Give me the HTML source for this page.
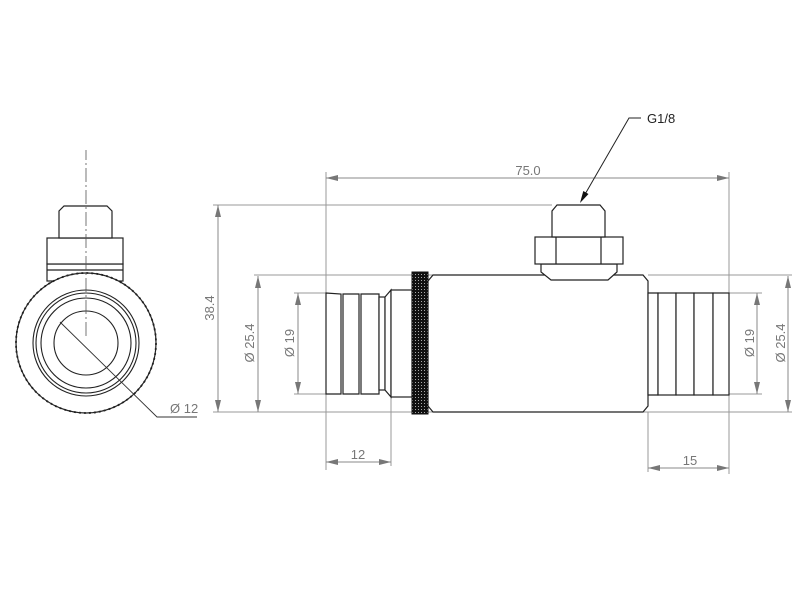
<!DOCTYPE html>
<html><head><style>
html,body{margin:0;padding:0;background:#fff;width:800px;height:600px;overflow:hidden}
svg{display:block}
text{font-family:"Liberation Sans",sans-serif;fill:#777;font-size:13px}
</style></head><body>
<svg width="800" height="600" viewBox="0 0 800 600" xmlns="http://www.w3.org/2000/svg">
<defs>
<pattern id="kn" width="3" height="3" patternUnits="userSpaceOnUse">
<rect width="3" height="3" fill="#111"/><rect x="1" y="1" width="1" height="1" fill="#aaa"/>
</pattern>
</defs>

<g stroke="#999" stroke-width="1" fill="none">
<line x1="326" y1="172" x2="326" y2="470"/>
<line x1="729" y1="172" x2="729" y2="474"/>
<line x1="213" y1="205" x2="552" y2="205"/>
<line x1="213" y1="412" x2="792" y2="412"/>
<line x1="254" y1="275" x2="433" y2="275"/>
<line x1="648" y1="275" x2="792" y2="275"/>
<line x1="294" y1="293" x2="326" y2="293"/>
<line x1="294" y1="394" x2="326" y2="394"/>
<line x1="729" y1="293" x2="762" y2="293"/>
<line x1="729" y1="394" x2="762" y2="394"/>
<line x1="391" y1="397" x2="391" y2="466"/>
<line x1="648" y1="412" x2="648" y2="472"/>
</g>
<g stroke="#888" stroke-width="1" fill="none">
<line x1="326" y1="178" x2="729" y2="178"/>
<line x1="218" y1="205" x2="218" y2="412"/>
<line x1="258" y1="276" x2="258" y2="412"/>
<line x1="298" y1="293" x2="298" y2="394"/>
<line x1="757" y1="293" x2="757" y2="394"/>
<line x1="788" y1="276" x2="788" y2="412"/>
<line x1="326" y1="462" x2="391" y2="462"/>
<line x1="648" y1="468" x2="729" y2="468"/>
</g>
<g fill="#777">
<polygon points="326,178 338,175 338,181"/><polygon points="729,178 717,175 717,181"/>
<polygon points="218,205 215,217 221,217"/><polygon points="218,412 215,400 221,400"/>
<polygon points="258,276 255,288 261,288"/><polygon points="258,412 255,400 261,400"/>
<polygon points="298,293 295,305 301,305"/><polygon points="298,394 295,382 301,382"/>
<polygon points="757,293 754,305 760,305"/><polygon points="757,394 754,382 760,382"/>
<polygon points="788,276 785,288 791,288"/><polygon points="788,412 785,400 791,400"/>
<polygon points="326,462 338,459 338,465"/><polygon points="391,462 379,459 379,465"/>
<polygon points="648,468 660,465 660,471"/><polygon points="729,468 717,465 717,471"/>
</g>
<text x="528" y="175" text-anchor="middle">75.0</text>
<text x="358" y="459" text-anchor="middle">12</text>
<text x="690" y="465" text-anchor="middle">15</text>
<text transform="translate(214,308) rotate(-90)" text-anchor="middle">38.4</text>
<text transform="translate(254,343) rotate(-90)" text-anchor="middle">Ø 25.4</text>
<text transform="translate(294,343) rotate(-90)" text-anchor="middle">Ø 19</text>
<text transform="translate(754,343) rotate(-90)" text-anchor="middle">Ø 19</text>
<text transform="translate(785,343) rotate(-90)" text-anchor="middle">Ø 25.4</text>

<polyline points="641,118 629,118 584,196" fill="none" stroke="#222" stroke-width="1"/>
<polygon points="580,203 588.5,194 583.3,191" fill="#111"/>
<text x="647" y="123" style="fill:#222">G1/8</text>

<g stroke="#222" stroke-width="1.2" fill="#fff">
<path d="M326,293 L341,294 L341,394 L326,394z"/>
<path d="M343,294 L359,294 L359,394 L343,394z"/>
<path d="M361,294 L379,294 L379,394 L361,394z"/>
<rect x="379" y="297" width="6" height="93"/>
<path d="M385,297 L391,290 L391,397 L385,390z"/>
<rect x="391" y="290" width="21" height="107"/>
<path d="M433,275 L643,275 L648,281 L648,406 L643,412 L433,412 L428,406 L428,281z"/>
<path d="M648,293 L658,293 L658,395 L648,395z"/>
<rect x="658" y="293" width="18" height="102"/>
<rect x="676" y="293" width="18" height="102"/>
<rect x="694" y="293" width="19" height="102"/>
<rect x="713" y="293" width="16" height="102"/>
<path d="M541,264 L617,264 L617,272 L608,280 L551,280 L541,272z"/>
<rect x="535" y="237" width="88" height="27"/>
<line x1="556" y1="237" x2="556" y2="264"/>
<line x1="601" y1="237" x2="601" y2="264"/>
<path d="M552,237 L552,211 L557,205 L600,205 L605,211 L605,237z"/>
</g>
<rect x="412" y="272" width="16" height="142" fill="url(#kn)" stroke="#111"/>

<g stroke="#222" stroke-width="1.2" fill="#fff">
<rect x="47" y="264" width="76" height="17"/>
<line x1="47" y1="270" x2="123" y2="270"/>
<rect x="47" y="238" width="76" height="26"/>
<path d="M59,238 L59,211 L64,206 L107,206 L112,211 L112,238z"/>
<circle cx="86" cy="343" r="70"/>
</g>
<circle cx="86" cy="343" r="70" fill="none" stroke="#222" stroke-width="1.8" stroke-dasharray="2,3"/>
<g stroke="#222" stroke-width="1.1" fill="none">
<circle cx="86" cy="343" r="53"/>
<circle cx="86" cy="343" r="50"/>
<circle cx="86" cy="343" r="45"/>
<circle cx="86" cy="343" r="32"/>
</g>
<line x1="86" y1="336" x2="86" y2="150" stroke="#555" stroke-width="0.8" stroke-dasharray="14,3,2,3"/>
<polyline points="60,322 157,417 197,417" fill="none" stroke="#333" stroke-width="0.9"/>
<text x="170" y="413">Ø 12</text>
</svg>
</body></html>
